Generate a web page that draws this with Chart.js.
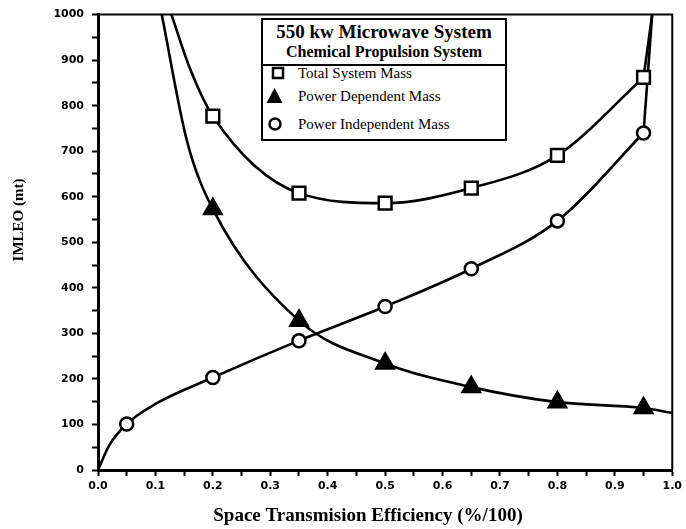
<!DOCTYPE html>
<html>
<head>
<meta charset="utf-8">
<script src="https://cdn.jsdelivr.net/npm/chart.js@4/dist/chart.umd.min.js"></script>
<style>
  body { margin: 0; background: #fff; }
  #wrap { position: relative; width: 686px; height: 529px; }
  #legend {
    position: absolute; left: 261px; top: 18px; width: 246px; height: 123px;
    border: 2px solid #000; box-sizing: border-box; background: #fff;
    font-family: "Liberation Serif", "Times New Roman", serif; color: #000;
  }
  #legend div { position: absolute; white-space: nowrap; }
  .t1 { left: 0; right: 0; top: 2px; line-height: 20px; text-align: center; font-weight: bold; font-size: 19px; }
  .t2 { left: 0; right: 0; top: 23px; line-height: 18px; text-align: center; font-weight: bold; font-size: 16px; }
  .rule { left: 0; right: 0; top: 44px; height: 2px; background: #000; }
  .item { left: 35px; line-height: 18px; font-size: 15px; }
  #legend svg { position: absolute; left: 0; top: 0; }
</style>
</head>
<body>
<div id="wrap">
  <canvas id="chart" width="686" height="529"></canvas>
  <div id="legend">
    <div class="t1">550 kw Microwave System</div>
    <div class="t2">Chemical Propulsion System</div>
    <div class="rule"></div>
    <svg width="30" height="119">
      <rect x="10" y="48" width="10" height="10" fill="#fff" stroke="#000" stroke-width="2.5"/>
      <polygon points="11.5,68 19.5,83 3.5,83" fill="#000"/>
      <circle cx="12" cy="104" r="5.5" fill="#fff" stroke="#000" stroke-width="2.5"/>
    </svg>
    <div class="item" style="top:44px">Total System Mass</div>
    <div class="item" style="top:67px">Power Dependent Mass</div>
    <div class="item" style="top:95px">Power Independent Mass</div>
  </div>
</div>
<script>
// marker values
const totalX = [0.2, 0.35, 0.5, 0.65, 0.8, 0.95];
const totalY = [777, 608, 586, 619, 691, 862];
const depX = [0.2, 0.35, 0.5, 0.65, 0.8, 0.95];
const depY = [573, 328, 234, 182, 149, 136];
const indepX = [0.05, 0.2, 0.35, 0.5, 0.65, 0.8, 0.95];
const indepY = [101, 203, 284, 359, 442, 547, 740];

// curve traces (markers plus points)
const totalLineX = [0.128, 0.16, 0.2, 0.35, 0.5, 0.65, 0.8, 0.95];
const totalLineY = [1000, 882, 777, 608, 586, 619, 691, 862];
const depLineX = [0.111, 0.155, 0.2, 0.35, 0.5, 0.65, 0.8, 0.95, 1.0];
const depLineY = [1000, 722, 573, 328, 234, 182, 149, 136, 125];
const indepLineX = [0, 0.02, 0.05, 0.1, 0.2, 0.35, 0.5, 0.65, 0.8, 0.95];
const indepLineY = [0, 55, 101, 145, 203, 284, 359, 442, 547, 740];

// near-vertical tails above the last markers
const totalTailX = [0.95, 0.965];
const totalTailY = [862, 1000];
const indepTailX = [0.95, 0.965];
const indepTailY = [740, 1000];

const xTitle = "Space Transmision Efficiency (%/100)";
const yTitle = "IMLEO (mt)";

const pts = (xs, ys) => xs.map((x, i) => ({ x: x, y: ys[i] }));

const lineSet = (xs, ys) => ({
  data: pts(xs, ys),
  showLine: true,
  borderColor: "#000",
  borderWidth: 2.6,
  pointRadius: 0,
  cubicInterpolationMode: "monotone",
  order: 2,
});

const markSet = (xs, ys, style, radius, fill) => ({
  data: pts(xs, ys),
  showLine: false,
  pointStyle: style,
  pointRadius: radius,
  pointBackgroundColor: fill,
  pointBorderColor: "#000",
  pointBorderWidth: 2.5,
  order: 1,
});

// frame on top/right plus the axis titles
const extras = {
  id: "extras",
  afterDraw(chart) {
    const ctx = chart.ctx;
    const a = chart.chartArea;
    ctx.save();
    ctx.strokeStyle = "#000";
    ctx.lineWidth = 2;
    ctx.beginPath();
    ctx.moveTo(a.left, a.top);
    ctx.lineTo(a.right, a.top);
    ctx.lineTo(a.right, a.bottom);
    ctx.stroke();

    ctx.fillStyle = "#000";
    ctx.font = 'bold 19px "Liberation Serif"';
    ctx.textAlign = "center";
    ctx.textBaseline = "alphabetic";
    ctx.fillText(xTitle, 368, 521);

    ctx.translate(23, 220);
    ctx.rotate(-Math.PI / 2);
    ctx.font = 'bold 15px "Liberation Serif"';
    ctx.fillText(yTitle, 0, 0);
    ctx.restore();
  },
};

const tickFont = { family: "DejaVu Sans", weight: "bold", size: 11 };

new Chart(document.getElementById("chart"), {
  type: "scatter",
  data: {
    datasets: [
      lineSet(totalLineX, totalLineY),
      lineSet(depLineX, depLineY),
      lineSet(indepLineX, indepLineY),
      lineSet(totalTailX, totalTailY),
      lineSet(indepTailX, indepTailY),
      markSet(totalX, totalY, "rect", 9, "#fff"),
      markSet(depX, depY, "triangle", 10, "#000"),
      markSet(indepX, indepY, "circle", 6.5, "#fff"),
    ],
  },
  options: {
    responsive: false,
    animation: false,
    layout: { padding: { top: 13, right: 12, left: 0, bottom: 0 } },
    plugins: { legend: { display: false }, tooltip: { enabled: false } },
    scales: {
      x: {
        type: "linear",
        min: 0,
        max: 1,
        afterFit: (s) => { s.height = 59; },
        border: { display: true, color: "#000", width: 3 },
        grid: { drawOnChartArea: false, tickLength: 6, tickColor: "#000", tickWidth: 2 },
        ticks: {
          stepSize: 0.05,
          color: "#000",
          font: tickFont,
          padding: 4,
          maxRotation: 0,
          autoSkip: false,
          callback: (v, i) => (i % 2 === 0 ? v.toFixed(1) : ""),
        },
      },
      y: {
        min: 0,
        max: 1000,
        afterFit: (s) => { s.width = 98; },
        border: { display: true, color: "#000", width: 3 },
        grid: { drawOnChartArea: false, tickLength: 6, tickColor: "#000", tickWidth: 2 },
        ticks: {
          stepSize: 50,
          color: "#000",
          font: tickFont,
          padding: 8,
          autoSkip: false,
          callback: (v) => (v % 100 === 0 ? String(v) : ""),
        },
      },
    },
  },
  plugins: [extras],
});
</script>
</body>
</html>
